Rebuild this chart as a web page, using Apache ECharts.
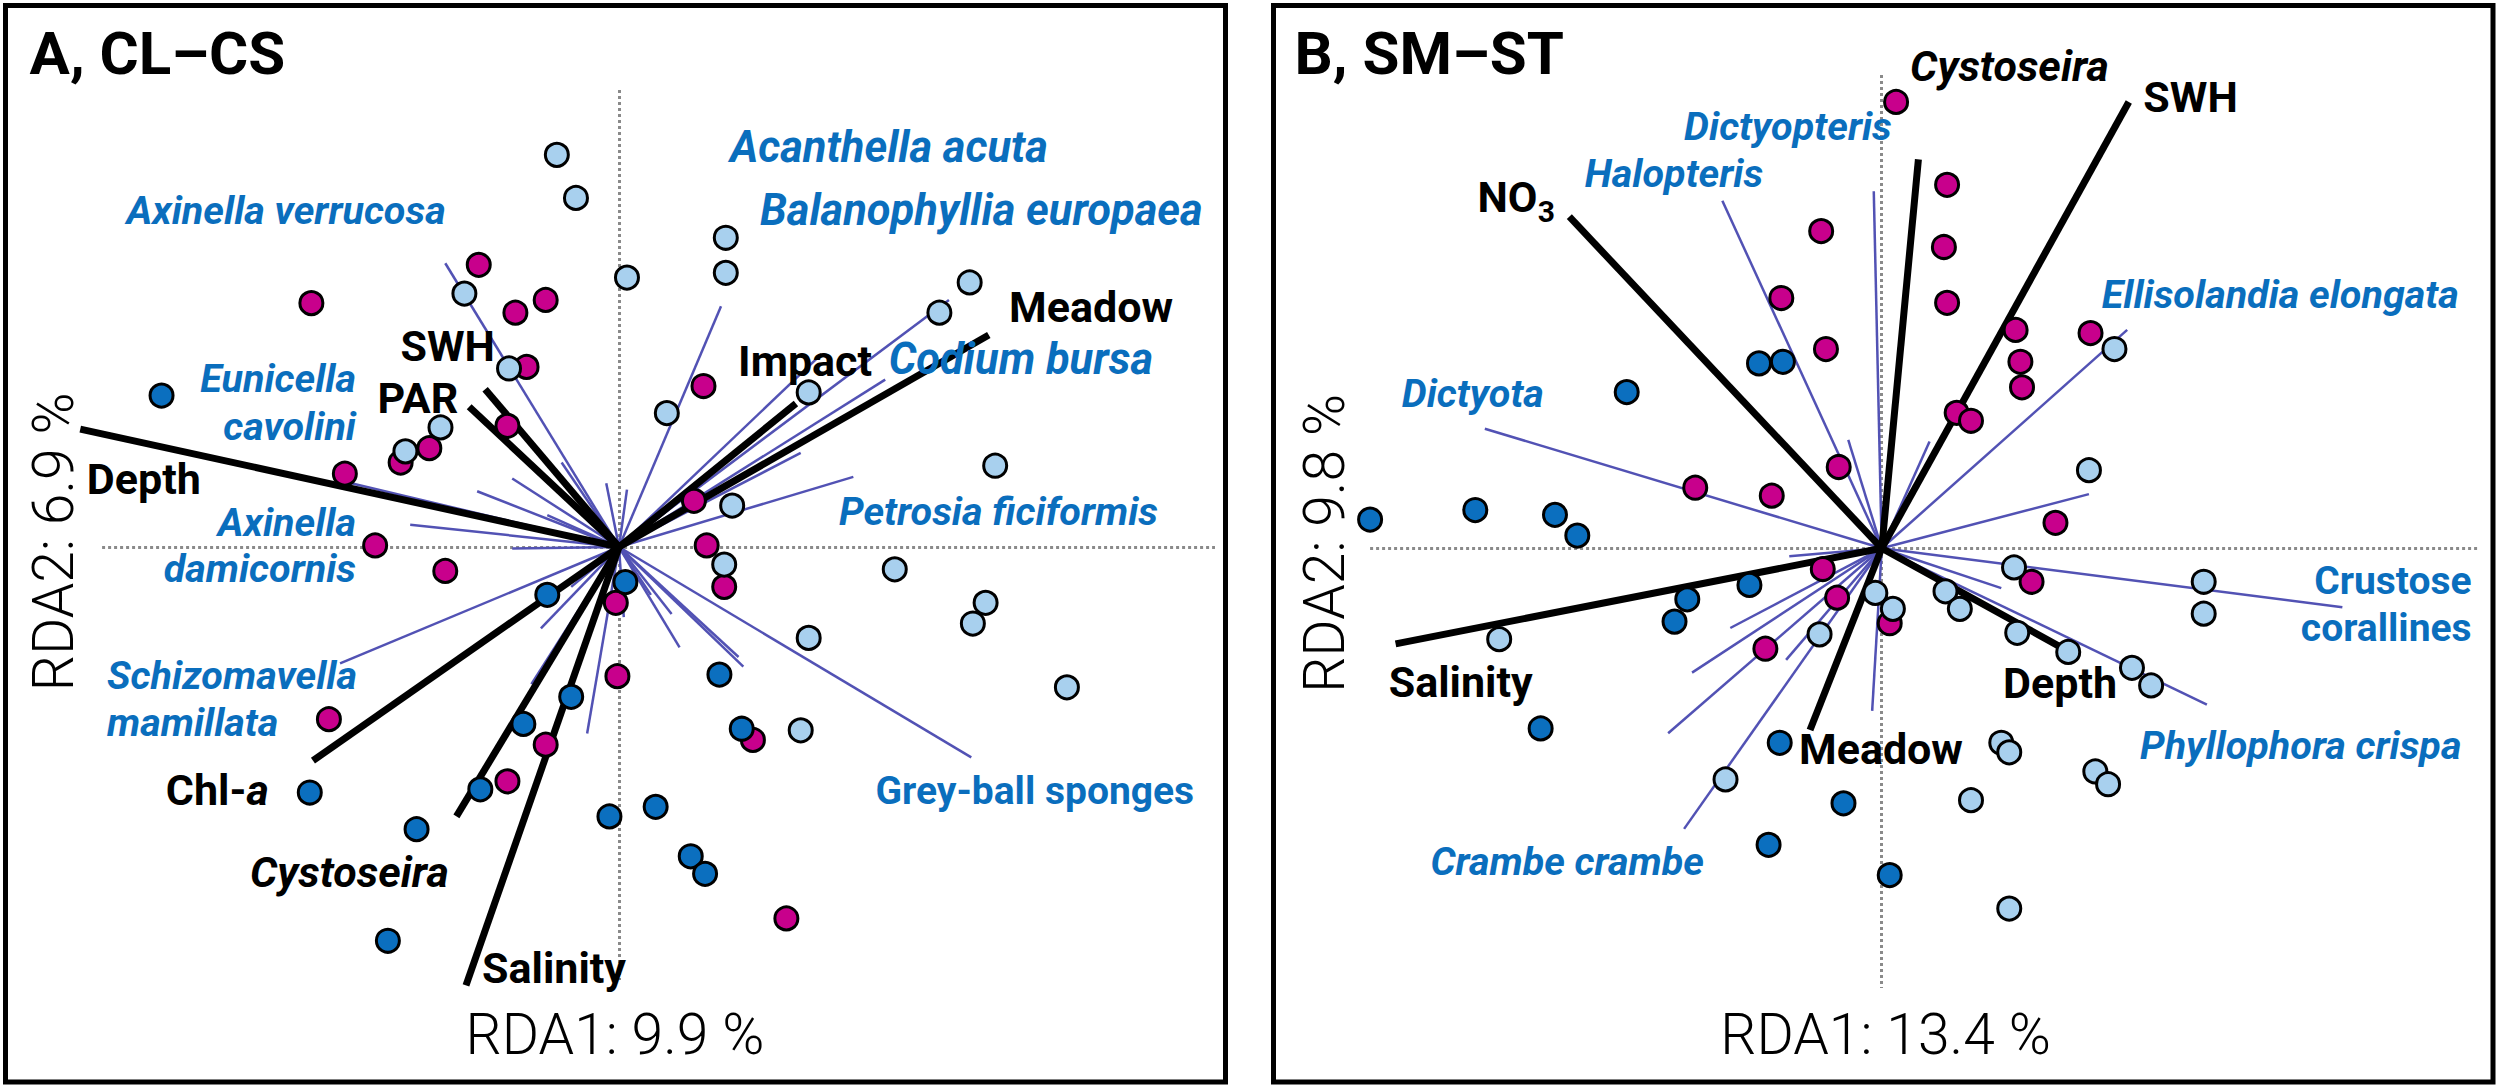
<!DOCTYPE html>
<html><head><meta charset="utf-8">
<script src="https://cdn.jsdelivr.net/npm/echarts/dist/echarts.min.js"></script>
<style>html,body{margin:0;padding:0;background:#fff}#c{width:2500px;height:1089px}</style>
</head><body><div id="c"></div>
<script>
// ---------- Panel A (CL–CS) site scores ----------
const A_lightBlue = [[-0.39,2.46],[-0.27,2.19],[0.05,1.69],[0.67,1.94],[0.67,1.72],[-0.97,1.59],[-0.69,1.12],[-1.12,0.75],[-1.34,0.60],[0.30,0.84],[1.19,0.97],[2.01,1.47],[2.20,1.66],[0.71,0.26],[0.66,-0.11],[2.36,0.51],[1.73,-0.14],[2.30,-0.35],[2.22,-0.48],[2.81,-0.88],[1.19,-0.57],[1.14,-1.15]];
const A_darkBlue = [[-2.87,0.95],[-0.45,-0.30],[0.04,-0.22],[-0.30,-0.94],[-0.60,-1.11],[-1.94,-1.54],[-0.87,-1.52],[-1.27,-1.77],[-1.45,-2.47],[-0.06,-1.69],[0.23,-1.63],[0.45,-1.94],[0.54,-2.05],[0.63,-0.80],[0.77,-1.14]];
const A_magenta = [[-0.88,1.77],[-1.93,1.53],[-0.65,1.47],[-0.46,1.55],[-0.58,1.13],[0.53,1.01],[-0.70,0.76],[-1.19,0.62],[-1.37,0.53],[-1.72,0.46],[-1.53,0.01],[-1.09,-0.15],[0.47,0.29],[0.55,0.01],[0.66,-0.25],[-0.02,-0.35],[-0.01,-0.81],[0.84,-1.21],[-1.82,-1.08],[-0.46,-1.24],[-0.70,-1.47],[1.05,-2.33]];
const A_envNames = ['Depth','SWH','PAR','Impact','Meadow','Chl-a','Cystoseira','Salinity'];
const A_envScores = [[-3.38,0.74],[-0.84,0.99],[-0.94,0.88],[1.11,0.90],[2.32,1.33],[-1.92,-1.34],[-1.02,-1.69],[-0.96,-2.75]];
const A_speciesScores = [[-1.09,1.78],[0.64,1.51],[2.07,1.55],[1.67,1.05],[1.27,1.21],[1.14,0.59],[1.47,0.44],[2.21,-1.32],[0.78,-0.75],[0.75,-0.69],[0.38,-0.63],[0.33,-0.42],[0.03,-0.44],[-1.68,0.40],[-1.31,0.14],[-0.89,0.35],[-0.67,0.43],[-0.67,-0.01],[-0.36,0.53],[-0.08,0.40],[0.05,0.36],[-1.75,-0.73],[-0.49,-0.51],[-0.55,-0.86],[-0.20,-1.17],[-0.45,0.20],[-0.30,-0.25],[0.20,-0.30]];

// ---------- Panel B (SM–ST) site scores ----------
const B_lightBlue = [[1.46,1.25],[1.30,0.49],[0.83,-0.12],[0.40,-0.27],[-0.04,-0.28],[0.07,-0.38],[0.49,-0.38],[-0.39,-0.54],[-2.40,-0.57],[0.85,-0.53],[1.17,-0.65],[1.57,-0.75],[1.69,-0.86],[2.02,-0.21],[2.02,-0.41],[1.34,-1.40],[1.42,-1.48],[0.75,-1.22],[0.80,-1.28],[-0.98,-1.45],[0.56,-1.58],[0.80,-2.26]];
const B_darkBlue = [[-0.77,1.16],[-0.62,1.17],[-1.60,0.98],[-3.21,0.18],[-2.55,0.24],[-2.05,0.21],[-1.91,0.08],[-0.83,-0.23],[-1.22,-0.32],[-1.30,-0.46],[-2.14,-1.13],[-0.64,-1.22],[-0.24,-1.60],[-0.71,-1.86],[0.05,-2.05]];
const B_magenta = [[0.09,2.80],[0.41,2.28],[0.39,1.89],[0.41,1.54],[-0.38,1.99],[-0.63,1.57],[-0.35,1.25],[0.84,1.37],[0.87,1.17],[0.88,1.01],[1.31,1.35],[0.47,0.85],[0.56,0.80],[-0.27,0.51],[-0.69,0.33],[-1.17,0.38],[1.09,0.16],[0.94,-0.21],[-0.37,-0.13],[-0.28,-0.31],[0.05,-0.47],[-0.73,-0.63]];
const B_envNames = ['Cystoseira','SWH','NO3','Salinity','Meadow','Depth'];
const B_envScores = [[0.23,2.44],[1.55,2.80],[-1.96,2.08],[-3.05,-0.60],[-0.45,-1.14],[1.16,-0.64]];
const B_speciesScores = [[-2.49,0.75],[-1.00,2.18],[-0.05,2.24],[1.54,1.37],[2.89,-0.37],[2.04,-0.98],[-1.24,-1.76],[1.30,0.34],[0.30,0.67],[-0.21,0.68],[-1.19,-0.78],[-1.34,-1.16],[-0.06,-1.02],[-0.58,-0.05],[-0.95,-0.50],[-0.60,-0.70],[0.75,-0.25]];

// ---------- zero reference lines (axis extents) ----------
const A_zeroV = [2.867,-2.716], A_zeroH = [-3.243,3.739];
const B_zeroV = [2.969,-2.758], B_zeroH = [-3.21,3.753];

// ---------- text annotations: [text, x, y, align, style] ----------
const A_text = [
 ['A, CL–CS',-3.698,3.096,'left','title'],
 ['Axinella verrucosa',-3.090,2.114,'left','sp'],
 ['Acanthella acuta',0.696,2.509,'left','spL'],
 ['Balanophyllia europaea',3.662,2.110,'right','spL'],
 ['Meadow',3.476,1.505,'right','env'],
 ['Codium bursa',3.350,1.175,'right','spL'],
 ['Impact',0.747,1.167,'left','env'],
 ['SWH',-1.371,1.262,'left','env'],
 ['PAR',-1.515,0.935,'left','env'],
 ['Eunicella',-1.650,1.060,'right','sp'],
 ['cavolini',-1.650,0.759,'right','sp'],
 ['Depth',-3.339,0.427,'left','env'],
 ['Axinella',-1.650,0.154,'right','sp'],
 ['damicornis',-1.650,-0.132,'right','sp'],
 ['Schizomavella',-3.212,-0.803,'left','sp'],
 ['mamillata',-3.212,-1.098,'left','sp'],
 ['{n|Chl-}{i|a}',-2.843,-1.524,'left','env'],
 ['Cystoseira',-2.315,-2.039,'left','envI'],
 ['Salinity',-0.859,-2.641,'left','env'],
 ['Petrosia ficiformis',1.380,0.223,'left','sp'],
 ['Grey-ball sponges',1.609,-1.528,'left','spU'],
 ['RDA1: 9.9 %',-0.025,-3.061,'center','axis'],
 ['RDA2: 6.9 %',-3.548,0.033,'center','axisV']
];
const B_text = [
 ['B, SM–ST',-3.684,3.104,'left','title'],
 ['Cystoseira',0.178,3.026,'left','envI'],
 ['SWH',1.641,2.834,'left','env'],
 ['Dictyopteris',-1.240,2.646,'left','sp'],
 ['Halopteris',-1.863,2.348,'left','sp'],
 ['NO',-2.536,2.206,'left','env'],
 ['3',-2.158,2.113,'left','sub'],
 ['Ellisolandia elongata',1.380,1.593,'left','sp'],
 ['Dictyota',-3.011,0.974,'left','sp'],
 ['Crustose',3.701,-0.205,'right','spU'],
 ['corallines',3.701,-0.500,'right','spU'],
 ['Salinity',-3.093,-0.837,'left','env'],
 ['Depth',0.761,-0.842,'left','env'],
 ['Meadow',-0.519,-1.259,'left','env'],
 ['Phyllophora crispa',1.620,-1.236,'left','sp'],
 ['Crambe crambe',-2.831,-1.966,'left','sp'],
 ['RDA1: 13.4 %',0.024,-3.053,'center','axis'],
 ['RDA2: 9.8 %',-3.496,0.031,'center','axisV']
];

const COL = {lb:'#a8d0ee', db:'#0b6fbf', mg:'#c8008c', spText:'#0a6ebd', spLine:'#5252b4'};
const FONT = 'Roboto, "Noto Sans", sans-serif';
const STY = {
 title:{fontSize:60,fontWeight:'bold',color:'#000',lineHeight:56},
 sp:{fontSize:39.5,fontWeight:'bold',fontStyle:'italic',color:COL.spText,lineHeight:33},
 spL:{fontSize:43.5,fontWeight:'bold',fontStyle:'italic',color:COL.spText,lineHeight:34},
 spU:{fontSize:39,fontWeight:'bold',color:COL.spText,lineHeight:33},
 env:{fontSize:43,fontWeight:'bold',color:'#000',lineHeight:36},
 envI:{fontSize:43,fontWeight:'bold',fontStyle:'italic',color:'#000',lineHeight:36},
 sub:{fontSize:30,fontWeight:'bold',color:'#000',lineHeight:26},
 axis:{fontSize:57,fontWeight:300,color:'#000',lineHeight:50},
 axisV:{fontSize:57,fontWeight:300,color:'#000',rotate:90,lineHeight:50}
};

function vecSeries(scores, idx, lineStyle, z){
  return {type:'lines',coordinateSystem:'cartesian2d',xAxisIndex:idx,yAxisIndex:idx,silent:true,z:z,animation:false,
    lineStyle:Object.assign({opacity:1,curveness:0},lineStyle),data:scores.map(s=>({coords:[[0,0],[s[0],s[1]]]}))};
}
function zeroSeries(v,h,idx){
  return {type:'lines',coordinateSystem:'cartesian2d',xAxisIndex:idx,yAxisIndex:idx,silent:true,z:1,animation:false,
    lineStyle:{color:'#8a8a8a',width:3,type:[3,3],opacity:1},
    data:[{coords:[[0,v[0]],[0,v[1]]]},{coords:[[h[0],0],[h[1],0]]}]};
}
function ptSeries(data, color, idx, z){
  return {type:'scatter',xAxisIndex:idx,yAxisIndex:idx,z:z,animation:false,silent:true,symbol:'circle',symbolSize:23,
    itemStyle:{color:color,borderColor:'#000',borderWidth:3,opacity:1},data:data};
}
function textSeries(list, idx){
  return {type:'scatter',xAxisIndex:idx,yAxisIndex:idx,z:10,animation:false,silent:true,symbolSize:0,
    itemStyle:{opacity:1},
    data:list.map(t=>{
      const st = STY[t[4]];
      const lab = Object.assign({show:true,position:[0,0],align:t[3],verticalAlign:'middle',fontFamily:FONT,opacity:1,
        formatter:()=>t[0]}, st);
      if (t[0].indexOf('{n|')===0){
        lab.rich = {n:{fontSize:43,fontWeight:'bold',color:'#000',fontFamily:FONT,lineHeight:36},
                    i:{fontSize:43,fontWeight:'bold',fontStyle:'italic',color:'#000',fontFamily:FONT,lineHeight:36}};
      }
      return {value:[t[1],t[2]],label:lab};
    })};
}

const chart = echarts.init(document.getElementById('c'), null, {renderer:'svg'});
chart.setOption({
  backgroundColor:'#fff',
  animation:false,
  grid:[
    {left:5.5,top:5.5,width:1220,height:1076.5,show:true,borderColor:'#000',borderWidth:5,backgroundColor:'#fff'},
    {left:1273.5,top:5.5,width:1219.5,height:1076.5,show:true,borderColor:'#000',borderWidth:5,backgroundColor:'#fff'}
  ],
  xAxis:[
    {gridIndex:0,type:'value',min:-3.849,max:3.805,show:false},
    {gridIndex:1,type:'value',min:-3.816,max:3.835,show:false}
  ],
  yAxis:[
    {gridIndex:0,type:'value',min:-3.356,max:3.397,show:false},
    {gridIndex:1,type:'value',min:-3.348,max:3.405,show:false}
  ],
  series:[
    zeroSeries(A_zeroV,A_zeroH,0),
    zeroSeries(B_zeroV,B_zeroH,1),
    vecSeries(A_speciesScores,0,{color:COL.spLine,width:2.5},2),
    vecSeries(B_speciesScores,1,{color:COL.spLine,width:2.5},2),
    vecSeries(A_envScores,0,{color:'#000',width:7,cap:'butt'},3),
    vecSeries(B_envScores,1,{color:'#000',width:7,cap:'butt'},3),
    ptSeries(A_magenta,COL.mg,0,4), ptSeries(A_darkBlue,COL.db,0,5), ptSeries(A_lightBlue,COL.lb,0,6),
    ptSeries(B_magenta,COL.mg,1,4), ptSeries(B_darkBlue,COL.db,1,5), ptSeries(B_lightBlue,COL.lb,1,6),
    textSeries(A_text,0), textSeries(B_text,1)
  ]
});
</script></body></html>
